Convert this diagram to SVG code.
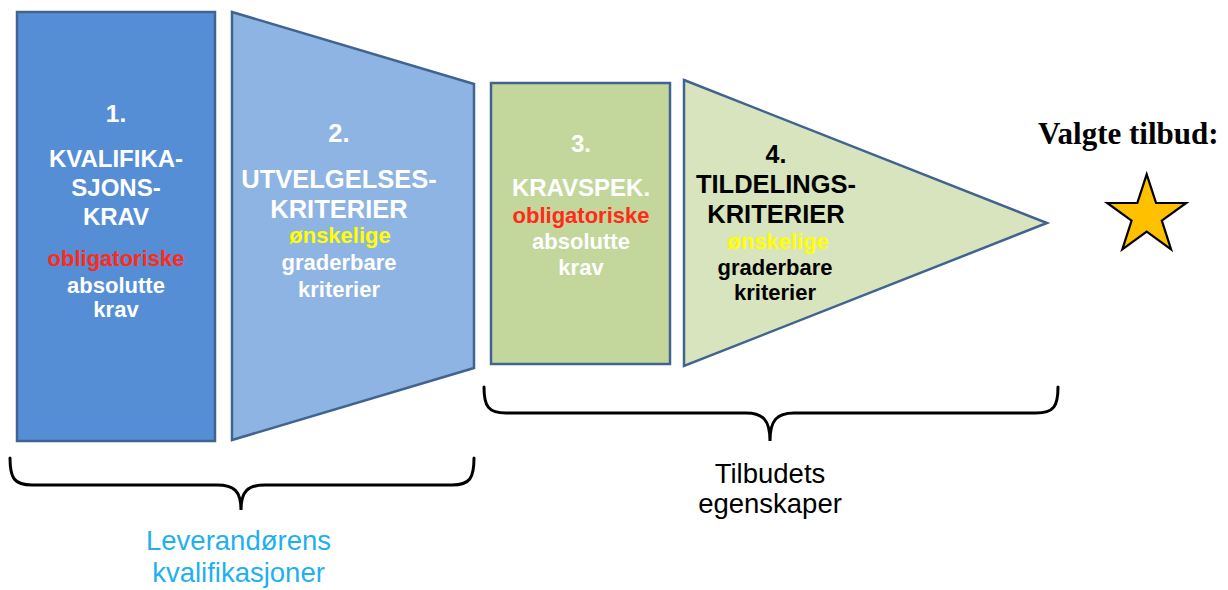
<svg xmlns="http://www.w3.org/2000/svg" width="1228" height="590" viewBox="0 0 1228 590">
<style>
.shape{stroke:#41638f;stroke-width:2.5;stroke-linejoin:miter}
text{font-family:"Liberation Sans",Arial,sans-serif;font-weight:bold;text-anchor:middle}
.w{fill:#ffffff}
.k{fill:#000000}
.r{fill:#ff2a1a}
.y{fill:#ffff00}
.t{font-size:24.5px}
.s{font-size:22px}
.brace{fill:none;stroke:#000000;stroke-width:3;stroke-linecap:round}
.lbl{font-weight:normal;font-size:27.5px}
</style>
<rect width="1228" height="590" fill="#ffffff"/>
<g id="node1">
<rect class="shape" x="17" y="12" width="198" height="429" fill="#558ed5"/>
<text class="w t" x="116" y="121.5" font-size="23">1.</text>
<text class="w t" x="116" y="167" style="font-size:24px">KVALIFIKA-</text>
<text class="w t" x="116" y="196" style="font-size:24px">SJONS-</text>
<text class="w t" x="116" y="225" style="font-size:24px">KRAV</text>
<text class="r s" x="116" y="266">obligatoriske</text>
<text class="w s" x="116" y="293">absolutte</text>
<text class="w s" x="116" y="317">krav</text>
</g>
<g id="node2">
<polygon class="shape" points="232,12 474,84 474,368 232,440" fill="#8eb4e3"/>
<text class="w t" x="339" y="142" style="font-size:25.5px">2.</text>
<text class="w t" x="339" y="188" style="font-size:25.5px">UTVELGELSES-</text>
<text class="w t" x="339" y="218" style="font-size:25.5px">KRITERIER</text>
<text class="y s" x="340" y="243">ønskelige</text>
<text class="w s" x="339" y="270">graderbare</text>
<text class="w s" x="339" y="297">kriterier</text>
</g>
<g id="node3">
<rect class="shape" x="491" y="83" width="179" height="281" fill="#c3d69b"/>
<text class="w t" x="581" y="152" style="font-size:24px">3.</text>
<text class="w t" x="581" y="196" style="font-size:24px">KRAVSPEK.</text>
<text class="r s" x="581" y="223">obligatoriske</text>
<text class="w s" x="581" y="249">absolutte</text>
<text class="w s" x="581" y="275">krav</text>
</g>
<g id="node4">
<polygon class="shape" points="684,80 1047,223 684,366" fill="#d7e4bd"/>
<text class="k t" x="776" y="163" style="font-size:25px">4.</text>
<text class="k t" x="776" y="193" style="font-size:25.5px">TILDELINGS-</text>
<text class="k t" x="776" y="223" style="font-size:25.5px">KRITERIER</text>
<text class="y s" x="778" y="249">ønskelige</text>
<text class="k s" x="775" y="275">graderbare</text>
<text class="k s" x="775" y="300">kriterier</text>
</g>
<g id="result">
<text x="1038" y="144" style="font-family:'Liberation Serif','Times New Roman',serif;font-size:31px;text-anchor:start;fill:#000000">Valgte tilbud:</text>
<polygon points="1146.7,174.3 1156.05,202.94 1186.17,202.98 1161.82,220.71 1171.09,249.37 1146.7,231.7 1122.31,249.37 1131.58,220.71 1107.23,202.98 1137.35,202.94" fill="#ffc000" stroke="#000000" stroke-width="2.2" stroke-linejoin="miter"/>
</g>
<g id="connectors">
<path class="brace" d="M10,458 C10,478 14,485 32,485 L217,485 C234,485 241,491 241,510 C241,491 248,485 265,485 L452,485 C470,485 474,478 474,458"/>
<path class="brace" d="M484,387 C484,406 488,413 506,413 L746,413 C763,413 770,420 770,441 C770,420 777,413 794,413 L1036,413 C1054,413 1058,406 1058,387"/>
</g>
<g id="label-tilbud">
<text class="lbl k" x="770" y="483">Tilbudets</text>
<text class="lbl k" x="770" y="513">egenskaper</text>
</g>
<g id="label-leverandor">
<text class="lbl" x="238.5" y="550" fill="#1fb0f0">Leverandørens</text>
<text class="lbl" x="238.5" y="581.5" fill="#1fb0f0">kvalifikasjoner</text>
</g>
</svg>
